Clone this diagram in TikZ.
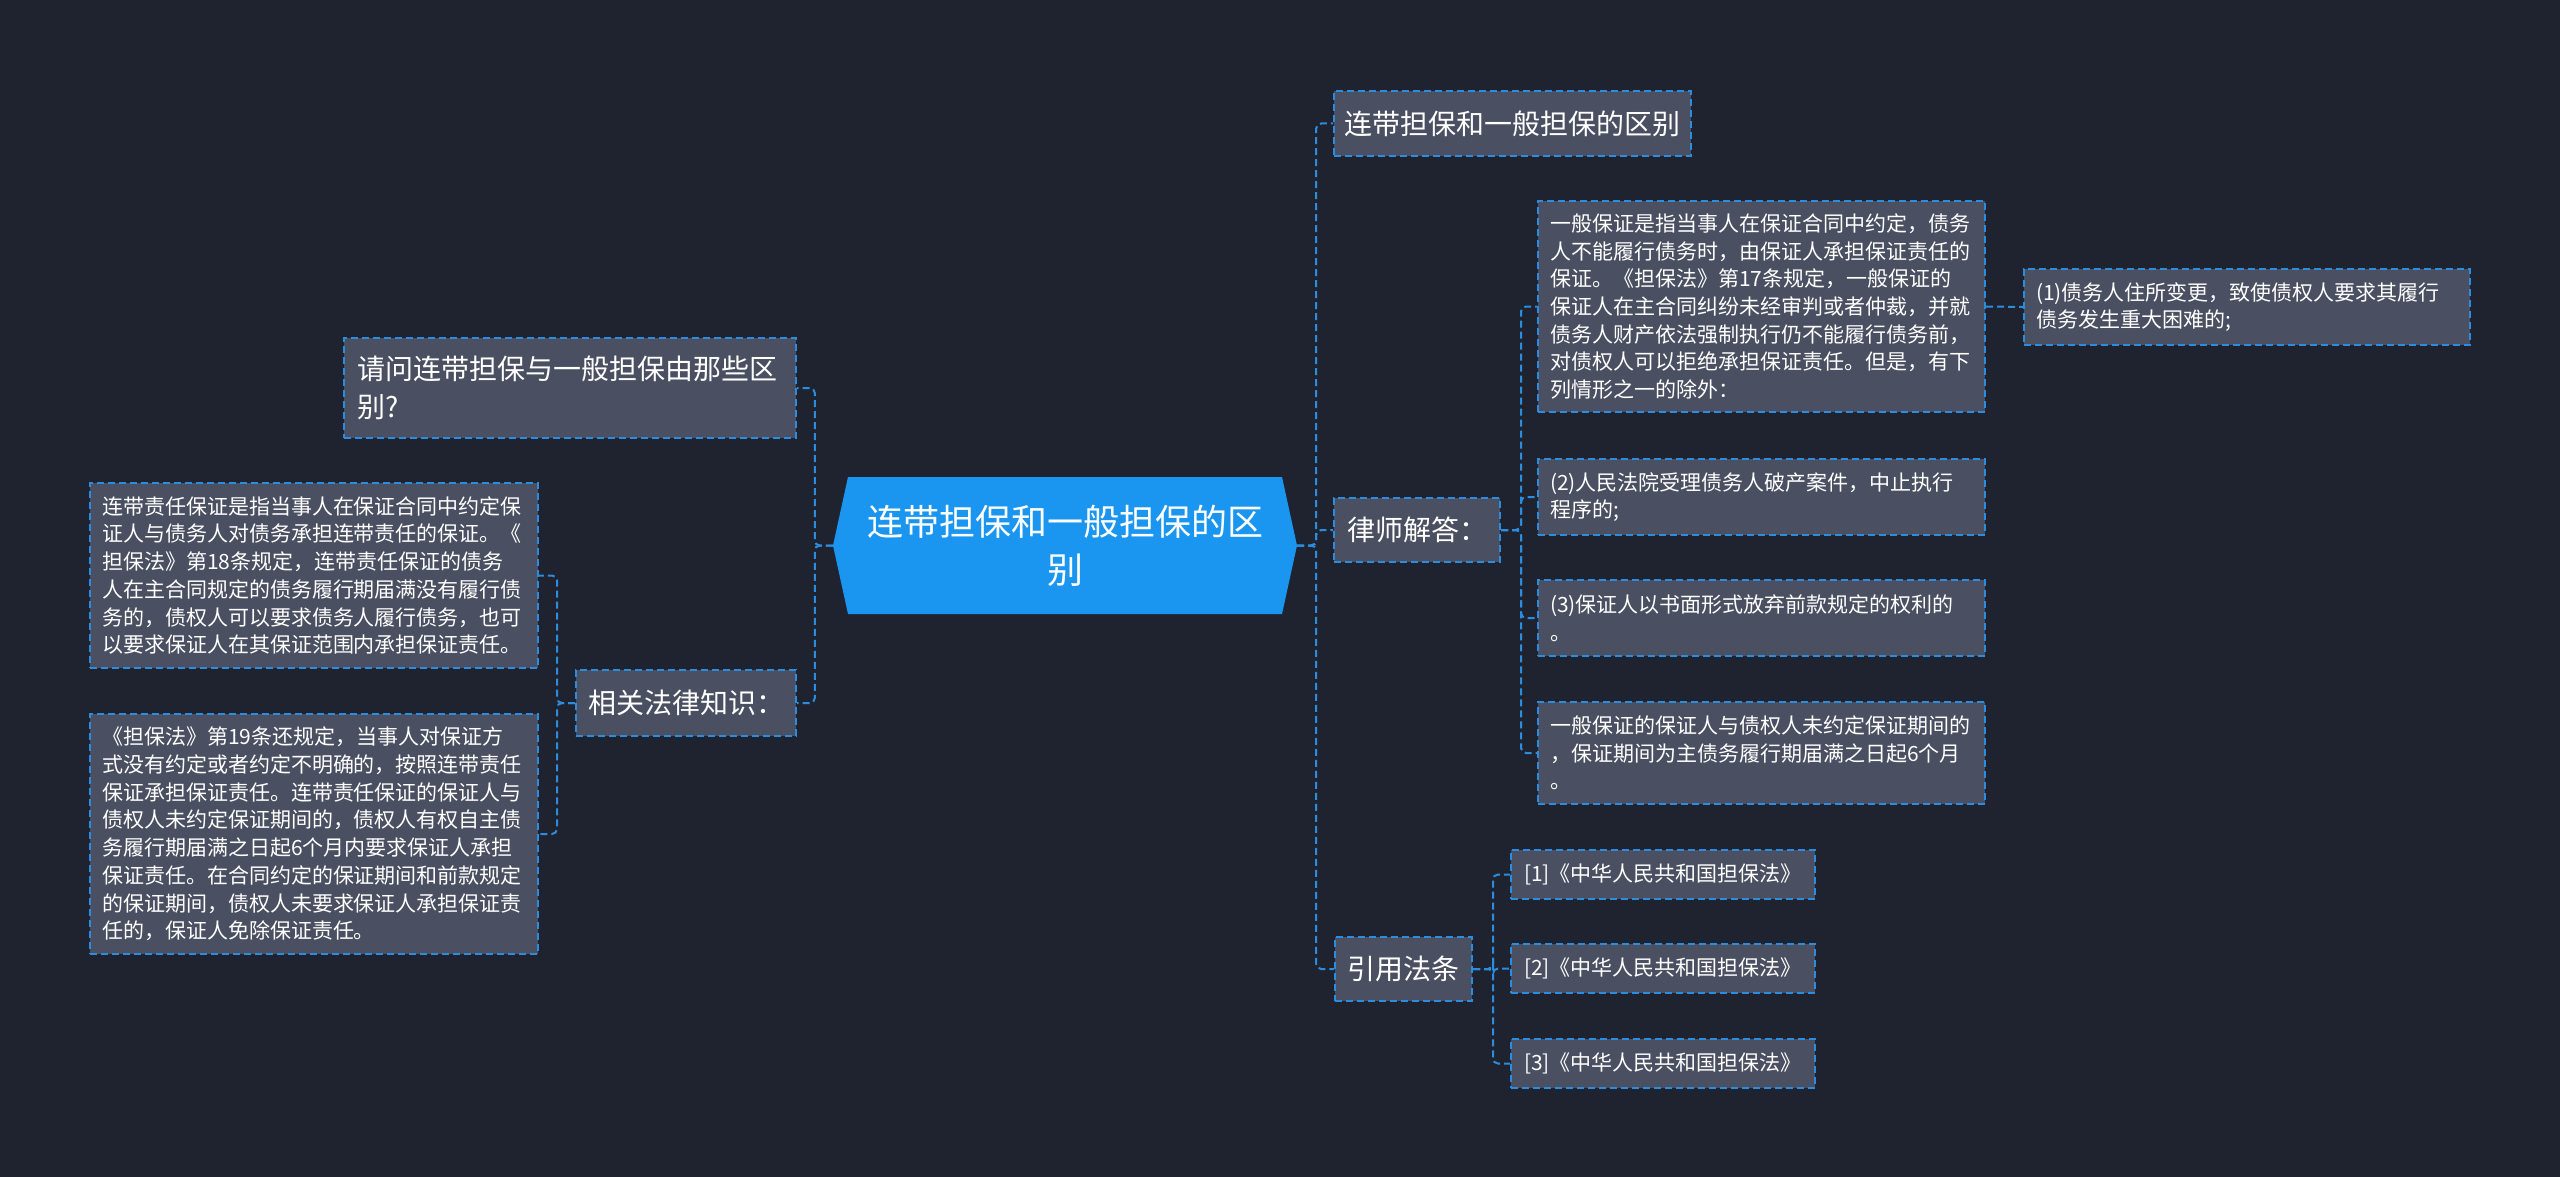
\documentclass[tikz,border=0pt]{standalone}
\usepackage{fontspec}
\setmainfont{Noto Sans CJK SC}
\definecolor{bgc}{HTML}{1F2330}
\definecolor{nodefill}{HTML}{4A5061}
\definecolor{bord}{HTML}{2A8DDF}
\definecolor{rootfill}{HTML}{1A96F0}
\tikzset{
 box/.style={draw=bord, fill=nodefill, line width=2pt, dash pattern=on 7pt off 4pt, text=white, inner ysep=0pt, anchor=north west},
 lvone/.style={box, font=\fontsize{28}{38}\selectfont, inner xsep=0pt, align=center},
 leafc/.style={box, font=\fontsize{21}{27.7}\selectfont, inner xsep=0pt, align=center},
 leaf/.style={box, font=\fontsize{21}{27.7}\selectfont, align=left, inner xsep=12pt},
 conn/.style={draw=bord, line width=2pt, dash pattern=on 7pt off 4pt, rounded corners=5pt},
}
\begin{document}
\begin{tikzpicture}[x=1pt,y=-1pt]
\useasboundingbox (0,0) rectangle (2560,1177);
\fill[bgc] (0,0) rectangle (2560,1177);
% root hexagon
\fill[rootfill] (833,545.5) -- (848,477) -- (1282,477) -- (1297,545.5) -- (1282,614) -- (848,614) -- cycle;
\node[font=\fontsize{36}{48}\selectfont, text=white, align=center, minimum width=464pt, minimum height=137pt, inner sep=0pt] (root) at (1065,545.5) {连带担保和一般担保的区\\别};

% right side level one
\node[lvone, minimum width=357pt, minimum height=65pt] (t1) at (1333,90) {连带担保和一般担保的区别};
\node[lvone, minimum width=166pt, minimum height=64pt] (t2) at (1333,497) {律师解答：};
\node[lvone, minimum width=137pt, minimum height=64pt] (t3) at (1334,936) {引用法条};

% left side level one
\node[lvone, align=left, inner xsep=13pt, text width=426pt, minimum height=100pt] (q) at (343,337) {请问连带担保与一般担保由那些区\\别?};
\node[lvone, minimum width=220pt, minimum height=66pt] (law) at (575,669) {相关法律知识：};

% children of t2
\node[leaf, text width=423pt, minimum height=211pt] (a1) at (1537,200) {一般保证是指当事人在保证合同中约定，债务\\人不能履行债务时，由保证人承担保证责任的\\保证。《担保法》第17条规定，一般保证的\\保证人在主合同纠纷未经审判或者仲裁，并就\\债务人财产依法强制执行仍不能履行债务前，\\对债权人可以拒绝承担保证责任。但是，有下\\列情形之一的除外：};
\node[leaf, text width=422pt, minimum height=76pt] (b1) at (2023,268) {(1)债务人住所变更，致使债权人要求其履行\\债务发生重大困难的;};
\node[leaf, text width=423pt, minimum height=76pt] (a2) at (1537,458) {(2)人民法院受理债务人破产案件，中止执行\\程序的;};
\node[leaf, text width=423pt, minimum height=76pt] (a3) at (1537,579) {(3)保证人以书面形式放弃前款规定的权利的\\。};
\node[leaf, text width=423pt, minimum height=102pt] (a4) at (1537,701) {一般保证的保证人与债权人未约定保证期间的\\，保证期间为主债务履行期届满之日起6个月\\。};

% children of t3
\node[leafc, minimum width=304pt, minimum height=49pt] (c1) at (1510,849) {[1]《中华人民共和国担保法》};
\node[leafc, minimum width=304pt, minimum height=49pt] (c2) at (1510,943) {[2]《中华人民共和国担保法》};
\node[leafc, minimum width=304pt, minimum height=49pt] (c3) at (1510,1038) {[3]《中华人民共和国担保法》};

% children of law
\node[leaf, text width=424pt, minimum height=185pt] (l1) at (89,482) {连带责任保证是指当事人在保证合同中约定保\\证人与债务人对债务承担连带责任的保证。《\\担保法》第18条规定，连带责任保证的债务\\人在主合同规定的债务履行期届满没有履行债\\务的，债权人可以要求债务人履行债务，也可\\以要求保证人在其保证范围内承担保证责任。};
\node[leaf, text width=424pt, minimum height=240pt] (l2) at (89,713) {《担保法》第19条还规定，当事人对保证方\\式没有约定或者约定不明确的，按照连带责任\\保证承担保证责任。连带责任保证的保证人与\\债权人未约定保证期间的，债权人有权自主债\\务履行期届满之日起6个月内要求保证人承担\\保证责任。在合同约定的保证期间和前款规定\\的保证期间，债权人未要求保证人承担保证责\\任的，保证人免除保证责任。};

% connectors
\draw[conn] (root.east) -- ++(19,0) |- (t1.west);
\draw[conn] (root.east) -- ++(19,0) |- (t2.west);
\draw[conn] (root.east) -- ++(19,0) |- (t3.west);
\draw[conn] (root.west) -- ++(-18,0) |- (q.east);
\draw[conn] (root.west) -- ++(-18,0) |- (law.east);
\foreach \n in {a1,a2,a3,a4} \draw[conn] (t2.east) -- ++(20,0) |- (\n.west);
\draw[conn] (a1.east) -- (b1.west);
\foreach \n in {c1,c2,c3} \draw[conn] (t3.east) -- ++(20,0) |- (\n.west);
\foreach \n in {l1,l2} \draw[conn] (law.west) -- ++(-18,0) |- (\n.east);
\end{tikzpicture}
\end{document}
